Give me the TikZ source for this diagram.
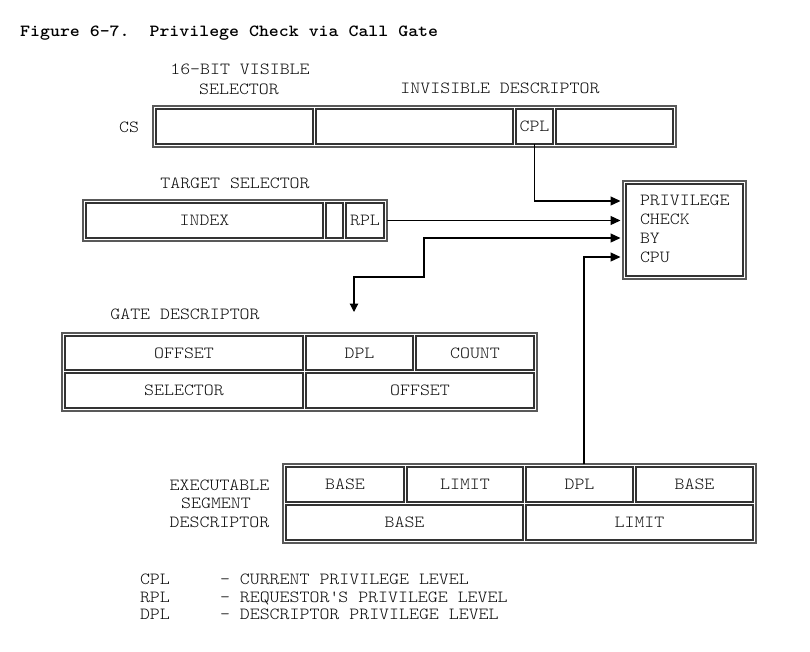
\documentclass[tikz,border=0pt]{standalone}
\usepackage{fontspec}
\setmainfont{Latin Modern Mono Light}[FakeStretch=1.115]
\usetikzlibrary{arrows.meta}
\tikzset{
  txt/.style={font=\fontsize{17}{19}\selectfont, text height=10.3pt, text depth=0pt},
  cellbox/.style={txt, draw=black!80, line width=1.2pt, inner sep=0pt, outer sep=0pt, text=black!92},
  framebox/.style={draw=black!65, line width=2.4pt, inner sep=0pt, outer sep=0pt},
  lbl/.style={txt, text=black!95, inner sep=0pt, outer sep=0pt},
  conn/.style={draw=black, line width=1.2pt},
  arrowtip/.tip={Triangle[length=10pt,width=9pt]},
  gaptip/.tip={Triangle[length=8.5pt,width=8.5pt,sep=6pt]},
}
\newcommand\rectnode[7]{\node[#1, minimum width={(#5)-(#3)}, minimum height={(#6)-(#4)}] (#2) at ({((#3)+(#5))/2},{((#4)+(#6))/2}) {#7};}
\begin{document}
\begin{tikzpicture}[x=1pt,y=-1pt]
\useasboundingbox (0,0) rectangle (810,651);
% title
\node[txt, anchor=west, inner sep=0pt, font=\fontsize{17}{19}\selectfont\bfseries] (title) at (20,31) {Figure 6-7.\ \ Privilege Check via Call Gate};
% CS register
\node[lbl] (l16) at (240,69) {16-BIT VISIBLE};
\node[lbl] (lsel) at (239,89) {SELECTOR};
\node[lbl] (linv) at (500,88) {INVISIBLE DESCRIPTOR};
\node[lbl] (lcs) at (129,127) {CS};
\rectnode{framebox}{csframe}{153}{106}{676}{147}{}
\rectnode{cellbox}{cs1}{156}{109}{313}{144}{}
\rectnode{cellbox}{cs2}{316}{109}{513}{144}{}
\rectnode{cellbox}{cpl}{516}{109}{553}{144}{CPL}
\rectnode{cellbox}{cs4}{556}{109}{673}{144}{}
% target selector
\node[lbl] (ltarget) at (235,183) {TARGET SELECTOR};
\rectnode{framebox}{tframe}{83}{200}{387}{241}{}
\rectnode{cellbox}{tindex}{86}{203}{323}{238}{INDEX}
\rectnode{cellbox}{tblank}{326}{203}{343}{238}{}
\rectnode{cellbox}{rpl}{346}{203}{384}{238}{RPL}
% privilege check box
\rectnode{framebox}{priv}{623}{181}{746}{279}{}
\rectnode{cellbox}{privin}{626}{184}{743}{276}{}
\node[lbl, anchor=west] (p1) at (640,200) {PRIVILEGE};
\node[lbl, anchor=west] (p2) at (640,219) {CHECK};
\node[lbl, anchor=west] (p3) at (640,238) {BY};
\node[lbl, anchor=west] (p4) at (640,257) {CPU};
% gate descriptor
\node[lbl] (lgate) at (185,314) {GATE DESCRIPTOR};
\rectnode{framebox}{gframe}{62}{333}{537}{411}{}
\rectnode{cellbox}{goff1}{65}{336}{303}{370}{OFFSET}
\rectnode{cellbox}{gdpl}{306}{336}{413}{370}{DPL}
\rectnode{cellbox}{gcount}{416}{336}{534}{370}{COUNT}
\rectnode{cellbox}{gsel}{65}{373}{303}{408}{SELECTOR}
\rectnode{cellbox}{goff2}{306}{373}{534}{408}{OFFSET}
% executable segment descriptor
\node[lbl] (lex1) at (219.5,485) {EXECUTABLE};
\node[lbl] (lex2) at (216,503) {SEGMENT};
\node[lbl] (lex3) at (219.5,522) {DESCRIPTOR};
\rectnode{framebox}{eframe}{283}{464}{756}{543}{}
\rectnode{cellbox}{ebase1}{286}{467}{404}{502}{BASE}
\rectnode{cellbox}{elim1}{407}{467}{523}{502}{LIMIT}
\rectnode{cellbox}{edpl}{526}{467}{633}{502}{DPL}
\rectnode{cellbox}{ebase2}{636}{467}{753}{502}{BASE}
\rectnode{cellbox}{ebase3}{286}{505}{523}{540}{BASE}
\rectnode{cellbox}{elim2}{526}{505}{753}{540}{LIMIT}
% legend
\node[lbl, anchor=west] (k1) at (140,579) {CPL};
\node[lbl, anchor=west] (k2) at (140,597) {RPL};
\node[lbl, anchor=west] (k3) at (140,614) {DPL};
\node[lbl, anchor=west] (d1) at (220,579) {- CURRENT PRIVILEGE LEVEL};
\node[lbl, anchor=west] (d2) at (220,597) {- REQUESTOR\textquotesingle S PRIVILEGE LEVEL};
\node[lbl, anchor=west] (d3) at (220,614) {- DESCRIPTOR PRIVILEGE LEVEL};
% connector coordinates
\coordinate (pin1) at (priv.west |- 0,201);
\coordinate (pin2) at (priv.west |- rpl.east);
\coordinate (pin3) at (priv.west |- 0,238);
\coordinate (pin4) at (priv.west |- 0,257);
\coordinate (gatein) at (354,318);
\coordinate (g1) at (354,277);
\coordinate (g2) at (424,277);
\coordinate (exin) at (eframe.north -| 584,0);
% connectors
\draw[conn, -arrowtip, shorten >=2.5pt] (cpl.south) |- (pin1);
\draw[conn, -arrowtip, shorten >=2.5pt] (tframe.east |- rpl.east) -- (pin2);
\draw[conn, gaptip-arrowtip, shorten >=2.5pt] (gatein) -- (g1) -- (g2) |- (pin3);
\draw[conn, -arrowtip, shorten >=2.5pt] (exin) |- (pin4);
\end{tikzpicture}
\end{document}
